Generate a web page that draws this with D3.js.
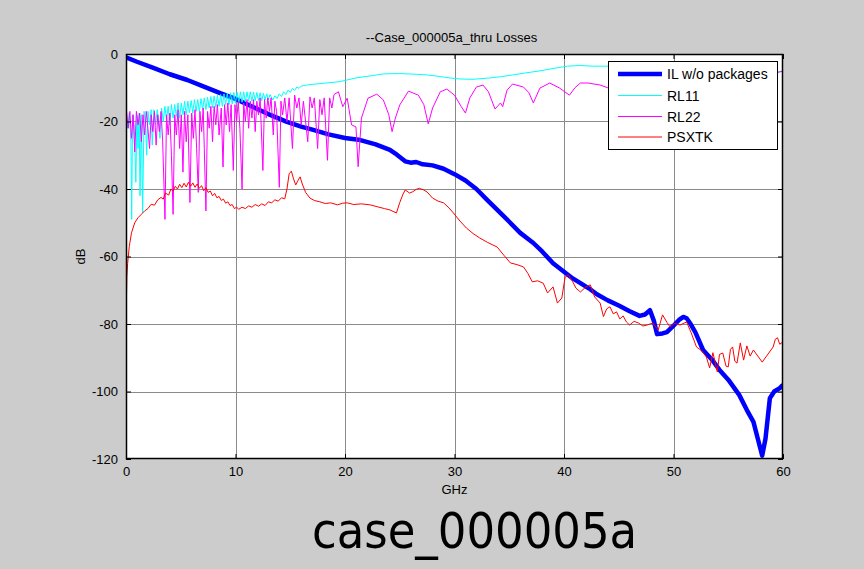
<!DOCTYPE html>
<html><head><meta charset="utf-8">
<script src="https://cdn.jsdelivr.net/npm/d3@7"></script>
<style>
html,body{margin:0;padding:0;background:#cccccc;}
svg{display:block;}
text{font-family:"Liberation Sans",Arial,sans-serif;}
</style></head>
<body>
<svg id="chart" width="864" height="569"></svg>
<script>
// ---------------- data (GHz, dB) ----------------
const chartTitle = "--Case_000005a_thru Losses";
const caseLabel = "case_000005a";
const xTicks = [0, 10, 20, 30, 40, 50, 60];
const yTicks = [0, -20, -40, -60, -80, -100, -120];
const seriesNames = ["IL w/o packages", "RL11", "RL22", "PSXTK"];

const IL = [[0,-1],[1,-2.3],[2.5,-4.1],[4,-6],[5.6,-7.7],[7,-9.5],[8.6,-11.6],[10,-13.3],[11.6,-15.7],[13,-17.8],[14.7,-20.1],[16,-21.5],[17.1,-22.5],[18.5,-23.8],[20,-24.9],[21.4,-25.5],[22.8,-26.8],[24.1,-28.4],[24.6,-29.5],[25,-30.5],[25.5,-31.8],[26,-32.2],[26.5,-32.0],[27.1,-32.7],[28,-33],[29,-34],[30,-35.6],[31,-37.5],[32,-40],[33,-43.3],[34,-46.5],[35,-49.7],[36,-53],[37.2,-56],[38,-58.5],[39,-62],[40,-64.5],[40.8,-66.5],[41.5,-67.9],[42.3,-69.5],[43,-71.2],[44,-73],[45,-74.5],[46,-76.2],[46.9,-77.6],[47.4,-77.2],[47.85,-75.9],[48.2,-79],[48.5,-83],[49,-82.8],[49.4,-82.4],[50,-80.5],[50.5,-78.8],[50.9,-77.9],[51.2,-78.3],[51.5,-79.7],[52,-82.5],[52.7,-87.7],[53.5,-90.5],[54.2,-93.6],[55,-96.5],[56,-101],[56.7,-105.5],[57.3,-109],[57.7,-114],[58.1,-119],[58.4,-114],[58.6,-108],[58.8,-102],[59.2,-100],[59.7,-99],[60,-98]];

const RL11 = [[0,-17],[0.15,-22],[0.3,-17.5],[0.45,-26],[0.52,-49],[0.6,-18],[0.75,-21],[0.9,-38],[1,-18],[1.1,-28],[1.2,-17.5],[1.28,-42],[1.4,-18],[1.52,-47],[1.65,-17],[1.8,-22],[1.89,-30],[2,-17],[2.15,-21],[2.3,-16.5],[2.4,-27],[2.55,-16.5],[2.7,-21],[2.85,-16.5],[3,-20],[3.1,-25],[3.25,-16],[3.4,-20],[3.55,-15.5],[3.7,-19.5],[3.85,-15.5],[4,-21],[4.15,-15],[4.3,-19],[4.45,-15],[4.6,-18.5],[4.75,-14.5],[4.9,-19],[5.05,-14.5],[5.2,-18],[5.35,-14],[5.5,-18],[5.65,-14],[5.8,-17.5],[5.95,-13.8],[6.1,-17.5],[6.25,-13.5],[6.4,-17],[6.55,-13.5],[6.7,-17],[6.85,-13.2],[7,-16.5],[7.15,-13],[7.3,-16.5],[7.45,-12.8],[7.6,-16],[7.75,-12.6],[7.9,-16],[8.05,-12.4],[8.2,-15.8],[8.35,-12.2],[8.5,-15.5],[8.65,-12],[8.8,-15.5],[8.95,-11.8],[9.1,-15],[9.25,-11.6],[9.4,-15],[9.55,-11.5],[9.7,-14.8],[9.85,-11.4],[10,-14.6],[10.15,-11.3],[10.3,-14.5],[10.45,-11.2],[10.6,-14.3],[10.75,-11.2],[10.9,-14.2],[11.05,-11.2],[11.2,-14],[11.35,-11.2],[11.5,-14],[11.65,-11.3],[11.8,-13.8],[11.95,-11.4],[12.1,-13.8],[12.25,-11.5],[12.4,-13.8],[12.55,-11.6],[12.7,-13.6],[12.85,-11.8],[13,-13.6],[13.15,-12],[13.4,-13.6],[13.6,-12.4],[13.8,-13.2],[14,-11.8],[14.2,-12.6],[14.4,-11.2],[14.6,-12],[14.8,-10.7],[15,-11.4],[15.2,-10.2],[15.4,-10.8],[15.6,-9.8],[15.8,-10.2],[16,-9.5],[16.5,-9.2],[17,-9],[18,-8.7],[19.5,-8.2],[21,-7.1],[22.5,-6.4],[23.5,-5.9],[25,-5.8],[26.5,-6],[27.5,-6.2],[28.5,-6.6],[29.6,-7.1],[30.5,-7.4],[31.7,-7.5],[33.2,-7.1],[34.3,-6.7],[35.3,-6.2],[36.5,-5.6],[37.8,-5],[39,-4.3],[40.3,-3.6],[41.5,-3.4],[42.6,-3.6],[43.7,-3.6],[46,-3.8],[50,-4.2],[54,-4.6],[57,-5],[59.7,-5.3],[60,-5.2]];

const RL22 = [[0,-32],[0.05,-17],[0.2,-22],[0.35,-17],[0.5,-25],[0.65,-18],[0.8,-29],[0.95,-17],[1.1,-21],[1.25,-17.5],[1.4,-26],[1.55,-18],[1.7,-24],[1.85,-17],[2,-22],[2.15,-28],[2.3,-18],[2.45,-23],[2.6,-17],[2.75,-27],[2.9,-18],[3.05,-23],[3.2,-17],[3.35,-26],[3.56,-49],[3.7,-18],[3.85,-24],[4,-17.5],[4.15,-30],[4.3,-47.5],[4.45,-18],[4.6,-24],[4.75,-16.5],[4.9,-28],[5.05,-18],[5.2,-35],[5.35,-17],[5.5,-26],[5.65,-18],[5.84,-44],[6,-17.5],[6.15,-25],[6.3,-16.5],[6.45,-28],[6.6,-41],[6.75,-17],[6.9,-23],[7.05,-16],[7.15,-28],[7.3,-46.5],[7.45,-17],[7.6,-22],[7.75,-15.5],[7.9,-26],[8.05,-15.5],[8.2,-21],[8.35,-15],[8.5,-24],[8.7,-16],[8.86,-33.5],[9,-15],[9.15,-21],[9.3,-14.5],[9.45,-23],[9.6,-15],[9.8,-34.5],[9.95,-15],[10.1,-20],[10.25,-14],[10.4,-22],[10.6,-40],[10.75,-14.5],[10.9,-20],[11.05,-13.5],[11.2,-22],[11.35,-14],[11.5,-19],[11.65,-13.5],[11.8,-23],[11.95,-14],[12.1,-18],[12.25,-13],[12.5,-34.5],[12.65,-13.5],[12.8,-19],[12.95,-13],[13.1,-17],[13.25,-13],[13.45,-24],[13.6,-14],[13.75,-17],[14,-39.5],[14.15,-14],[14.3,-18],[14.5,-13],[14.7,-20],[14.9,-13],[15.2,-28],[15.4,-12.2],[15.6,-16],[15.8,-13],[16,-21],[16.2,-14],[16.6,-26],[16.8,-12.7],[17,-16],[17.2,-13],[17.5,-28],[17.7,-13.5],[17.9,-18],[18.1,-13],[18.4,-31.5],[18.6,-13],[18.8,-16],[19,-12],[19.4,-11.2],[19.8,-15.6],[20.2,-13.1],[20.6,-21],[21,-21.6],[21.2,-33.4],[21.5,-19],[22.1,-13.1],[22.9,-11.9],[23.5,-13.6],[24,-18],[24.3,-23],[24.6,-19],[25,-15.1],[25.8,-11],[26.7,-12.2],[27.2,-15],[27.6,-20.7],[28,-16],[28.7,-11.2],[29.3,-10.4],[30,-12.2],[30.6,-15.5],[31,-17.5],[31.4,-13],[32,-9.8],[32.6,-9.2],[33.1,-11.2],[33.7,-16.3],[34.2,-14.5],[34.4,-15.6],[34.8,-10.7],[35.3,-8.9],[36.3,-9.8],[36.8,-11.5],[37.2,-14.5],[37.8,-10.1],[38.7,-8.6],[39.6,-10.1],[40.5,-12.2],[41,-10],[41.5,-8.6],[42.2,-8.6],[43.3,-9.2],[44,-10],[46,-8.5],[48,-9.5],[50,-8],[52,-9],[54,-7.5],[56,-8],[58,-6.5],[59.7,-5.3],[60,-5]];

const PSXTK = [[0,-104],[0.03,-74],[0.08,-66],[0.15,-62],[0.3,-57],[0.5,-53],[0.8,-50],[1.1,-48.5],[1.4,-47.5],[1.7,-46.5],[2,-45.8],[2.3,-44.5],[2.6,-44.8],[2.9,-43.2],[3.2,-42.5],[3.4,-43],[3.6,-41.2],[3.9,-41.8],[4.1,-40],[4.3,-40.6],[4.5,-39.2],[4.7,-40],[4.9,-38.6],[5.1,-39.6],[5.3,-38.3],[5.5,-39.4],[5.7,-38],[5.9,-39.2],[6.1,-38.2],[6.3,-39.5],[6.5,-38.5],[6.7,-39.8],[6.9,-39],[7.1,-40.5],[7.3,-39.6],[7.5,-41],[7.7,-40.6],[7.9,-42],[8.1,-41.3],[8.3,-42.6],[8.5,-42.2],[8.7,-43.4],[8.9,-43],[9.1,-44.2],[9.3,-43.8],[9.5,-44.9],[9.7,-44.6],[9.9,-45.8],[10.1,-45.4],[10.3,-46],[10.6,-45.4],[10.9,-45.8],[11.2,-45],[11.5,-45.4],[11.8,-44.6],[12.1,-45.1],[12.4,-44.4],[12.7,-44.9],[13,-43.8],[13.3,-44.1],[13.6,-43.2],[13.9,-43.6],[14.2,-42.6],[14.5,-42.9],[14.7,-40],[14.9,-35.5],[15.1,-34.7],[15.3,-37],[15.5,-38.8],[15.7,-37.5],[15.9,-36.4],[16.1,-38.5],[16.4,-41],[16.8,-42.7],[17.2,-43.4],[17.7,-43.8],[18.2,-44.3],[18.7,-44.1],[19.3,-44.7],[19.8,-44.2],[20.2,-44.1],[20.8,-44.6],[21.5,-44.4],[22.3,-44.7],[23,-45.3],[23.6,-45.8],[24.1,-46.2],[24.7,-47.1],[25,-44],[25.3,-41.5],[25.5,-40.3],[25.9,-41.2],[26.2,-40.8],[26.5,-40.1],[26.8,-39.8],[27.2,-40.3],[27.5,-40.9],[28,-42.7],[28.5,-43.6],[29,-44.1],[29.5,-45.6],[29.9,-47.1],[30.5,-49.5],[31.1,-51.6],[31.7,-53.2],[32.3,-54.5],[33,-55.8],[33.9,-57.2],[34.5,-59.6],[35.1,-61.9],[35.7,-62.4],[36.3,-63.1],[36.7,-65],[37.1,-67.5],[37.6,-67.2],[38.1,-67.9],[38.5,-70.8],[39,-69],[39.4,-73.8],[39.8,-72.3],[40.1,-66.1],[40.4,-65.5],[40.8,-67.5],[41.1,-69.4],[41.5,-70.5],[42,-69],[42.4,-68.4],[42.8,-72],[43.3,-73.8],[43.6,-77.8],[43.9,-75.5],[44.2,-74.9],[44.5,-77],[44.8,-76.4],[45.1,-78.5],[45.4,-77.6],[45.7,-79.4],[46,-80.3],[46.4,-79.2],[46.8,-79.7],[47.2,-80.6],[47.6,-80.3],[48.1,-79.7],[48.6,-81.8],[49,-77.3],[49.4,-79.5],[49.7,-80.9],[50.1,-79.8],[50.6,-80.3],[51.2,-79.4],[51.6,-82.5],[52.1,-86.8],[52.6,-88],[53,-89.8],[53.3,-93],[53.6,-88.5],[54,-94.2],[54.2,-89],[54.5,-88.6],[54.8,-92.5],[55,-92.7],[55.2,-87.5],[55.4,-86.8],[55.6,-91],[55.8,-91.6],[56.1,-85.6],[56.4,-90.7],[56.7,-86.5],[57,-89.5],[57.3,-87.7],[57.7,-89.5],[58.1,-91.3],[58.5,-89.5],[59.1,-86.8],[59.3,-84.5],[59.5,-84.1],[59.7,-86],[60,-85.3]];

const seriesData = [IL, RL11, RL22, PSXTK];
const seriesColors = ["#0000ff", "#00ffff", "#ff00ff", "#ff0000"];
const seriesWidths = [4.5, 1, 1, 1];

// ---------------- layout ----------------
const svg = d3.select("#chart");
const W = 864, H = 569;
const plot = {left: 126, top: 54, right: 783, bottom: 459};
svg.append("rect").attr("width", W).attr("height", H).attr("fill", "#cccccc");

const x = d3.scaleLinear().domain([0, 60]).range([plot.left, plot.right]);
const y = d3.scaleLinear().domain([-120, 0]).range([plot.bottom, plot.top]);

svg.append("rect").attr("x", plot.left).attr("y", plot.top)
  .attr("width", plot.right - plot.left).attr("height", plot.bottom - plot.top)
  .attr("fill", "#ffffff");

// grid
const grid = svg.append("g").attr("stroke", "#8a8a8a").attr("stroke-width", 1).attr("shape-rendering", "crispEdges");
grid.selectAll(".gx").data(xTicks.slice(1, -1)).join("line")
  .attr("x1", d => Math.round(x(d)) + 0.5).attr("x2", d => Math.round(x(d)) + 0.5)
  .attr("y1", plot.top).attr("y2", plot.bottom);
grid.selectAll(".gy").data(yTicks.slice(1, -1)).join("line")
  .attr("y1", d => Math.round(y(d)) + 0.5).attr("y2", d => Math.round(y(d)) + 0.5)
  .attr("x1", plot.left).attr("x2", plot.right);

// clip
svg.append("clipPath").attr("id", "clip").append("rect")
  .attr("x", plot.left).attr("y", plot.top - 3)
  .attr("width", plot.right - plot.left).attr("height", plot.bottom - plot.top + 3);

const line = d3.line().x(d => x(d[0])).y(d => y(d[1]));
const lines = svg.append("g").attr("clip-path", "url(#clip)");
seriesData.forEach((s, i) => {
  lines.append("path").datum(s).attr("d", line)
    .attr("fill", "none").attr("stroke", seriesColors[i])
    .attr("stroke-width", seriesWidths[i]).attr("stroke-linejoin", "round");
});

// axes (inward ticks on all sides)
const fontSize = 13;
const fmt = d => String(d);
const axB = svg.append("g").attr("transform", `translate(0,${plot.bottom})`)
  .call(d3.axisBottom(x).tickValues(xTicks).tickFormat(fmt).tickSizeInner(-5).tickSizeOuter(0).tickPadding(8));
const axT = svg.append("g").attr("transform", `translate(0,${plot.top})`)
  .call(d3.axisTop(x).tickValues(xTicks).tickSizeInner(-5).tickSizeOuter(0).tickFormat(""));
const axL = svg.append("g").attr("transform", `translate(${plot.left},0)`)
  .call(d3.axisLeft(y).tickValues(yTicks).tickFormat(fmt).tickSizeInner(-5).tickSizeOuter(0).tickPadding(8));
const axR = svg.append("g").attr("transform", `translate(${plot.right},0)`)
  .call(d3.axisRight(y).tickValues(yTicks).tickSizeInner(-5).tickSizeOuter(0).tickFormat(""));
[axB, axT, axL, axR].forEach(a => {
  a.select(".domain").remove();
  a.selectAll("line").attr("stroke", "#000");
  a.selectAll("text").attr("fill", "#000").style("font-size", fontSize + "px")
    .style("font-family", "'Liberation Sans', Arial, sans-serif");
});
axB.selectAll("text").attr("dy", "0.71em");

// frame
svg.append("rect").attr("x", plot.left + 0.5).attr("y", plot.top + 0.5)
  .attr("width", plot.right - plot.left - 1).attr("height", plot.bottom - plot.top - 1)
  .attr("fill", "none").attr("stroke", "#000").attr("stroke-width", 1.5);

// title & axis labels
svg.append("text").attr("x", (plot.left + plot.right) / 2 - 3).attr("y", 42)
  .attr("text-anchor", "middle").style("font-size", "13px").text(chartTitle);
svg.append("text").attr("x", (plot.left + plot.right) / 2).attr("y", 494)
  .attr("text-anchor", "middle").style("font-size", "13px").text("GHz");
svg.append("text").attr("transform", `translate(85,${(plot.top + plot.bottom) / 2}) rotate(-90)`)
  .attr("text-anchor", "middle").style("font-size", "13px").text("dB");

// legend
const lg = {x: 608.5, y: 61.5, w: 169, h: 88};
const legend = svg.append("g");
legend.append("rect").attr("x", lg.x).attr("y", lg.y).attr("width", lg.w).attr("height", lg.h)
  .attr("fill", "#fff").attr("stroke", "#000").attr("stroke-width", 1);
const rowY = [74, 95.5, 116.5, 137];
seriesNames.forEach((name, i) => {
  legend.append("line").attr("x1", 618).attr("x2", 662).attr("y1", rowY[i]).attr("y2", rowY[i])
    .attr("stroke", seriesColors[i]).attr("stroke-width", seriesWidths[i]);
  legend.append("text").attr("x", 667).attr("y", rowY[i] + 5).style("font-size", "14px").text(name);
});

// big case label
svg.append("text").attr("x", 474.5).attr("y", 548).attr("text-anchor", "middle")
  .style("font-family", "'DejaVu Sans Condensed','DejaVu Sans',sans-serif")
  .style("font-stretch", "condensed").style("font-size", "50px").attr("fill", "#000")
  .text(caseLabel);
</script>
</body></html>
